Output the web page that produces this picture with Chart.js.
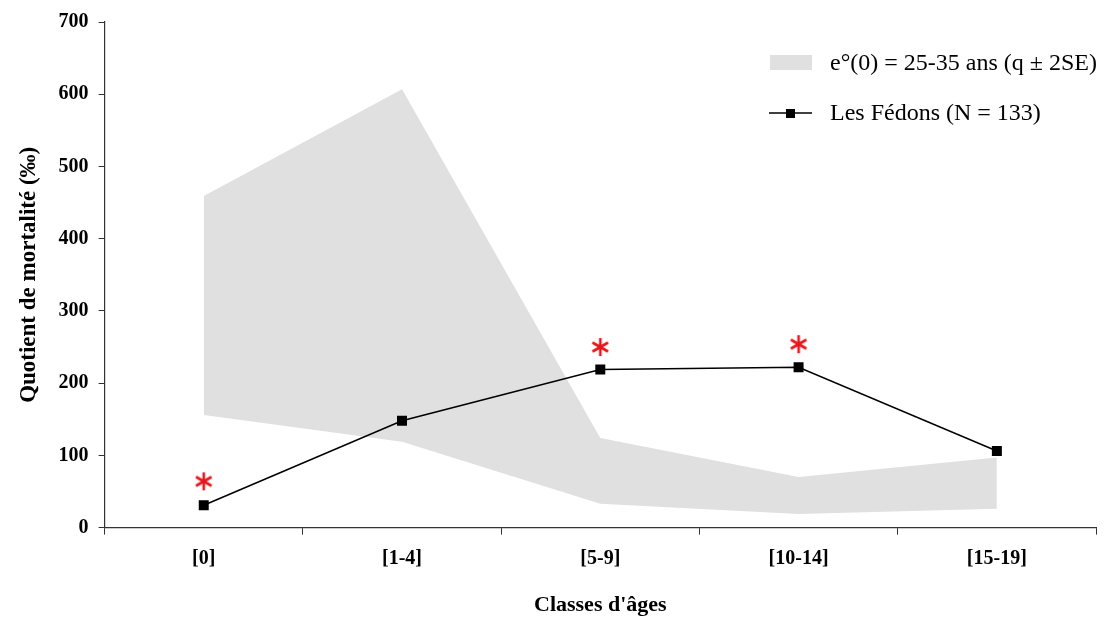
<!DOCTYPE html>
<html>
<head>
<meta charset="utf-8">
<script src="https://cdn.jsdelivr.net/npm/chart.js@4/dist/chart.umd.min.js"></script>
<style>
  body { margin: 0; background: #fff; }
  #wrap { width: 1104px; height: 617px; }
</style>
</head>
<body>
<div id="wrap"><canvas id="chart" width="1104" height="617"></canvas></div>
<script>
const ageClasses = ['[0]', '[1-4]', '[5-9]', '[10-14]', '[15-19]'];
const fedons = [31, 148, 219, 222, 106];
const bandUpper = [459, 607, 124, 70, 97];
const bandLower = [156, 119, 33, 19, 26];
const significant = [64, null, 250, 254, null];

const bandLabel = 'e°(0) = 25-35 ans (q ± 2SE)';
const lineLabel = 'Les Fédons (N = 133)';
const serif = '"Liberation Serif", "Times New Roman", serif';

// red asterisk used as point style
const star = document.createElement('canvas');
star.width = 22; star.height = 22;
(() => {
  const c = star.getContext('2d');
  c.strokeStyle = '#e8161c';
  c.lineWidth = 2.6;
  const r = 9;
  for (const a of [90, 30, -30]) {
    const t = a * Math.PI / 180;
    c.beginPath();
    c.moveTo(11 - r * Math.cos(t), 11 - r * Math.sin(t));
    c.lineTo(11 + r * Math.cos(t), 11 + r * Math.sin(t));
    c.stroke();
  }
})();

const legendPlugin = {
  id: 'cornerLegend',
  afterDraw(chart) {
    const ctx = chart.ctx;
    ctx.save();
    ctx.font = '24px ' + serif;
    ctx.textBaseline = 'middle';
    ctx.fillStyle = '#e0e0e0';
    ctx.fillRect(770, 55, 42, 15);
    ctx.fillStyle = '#000';
    ctx.fillText(bandLabel, 830, 64);
    ctx.strokeStyle = '#000';
    ctx.lineWidth = 1.5;
    ctx.beginPath();
    ctx.moveTo(769, 113);
    ctx.lineTo(812, 113);
    ctx.stroke();
    ctx.fillRect(786, 109, 9, 9);
    ctx.fillText(lineLabel, 830, 114);
    ctx.restore();
  }
};

new Chart(document.getElementById('chart'), {
  type: 'line',
  data: {
    labels: ageClasses,
    datasets: [
      {
        label: 'upper',
        data: bandUpper,
        borderWidth: 0,
        pointRadius: 0,
        backgroundColor: '#e0e0e0',
        fill: '+1',
        order: 3
      },
      {
        label: bandLabel,
        data: bandLower,
        borderWidth: 0,
        pointRadius: 0,
        fill: false,
        order: 3
      },
      {
        label: lineLabel,
        data: fedons,
        borderColor: '#000',
        backgroundColor: '#000',
        borderWidth: 1.5,
        pointStyle: 'rect',
        pointRadius: 6,
        fill: false,
        order: 1
      },
      {
        label: 'sig',
        data: significant,
        showLine: false,
        pointStyle: star,
        order: 0
      }
    ]
  },
  options: {
    responsive: false,
    animation: false,
    layout: { padding: { top: 6, right: 8, left: 11, bottom: -6 } },
    plugins: { legend: { display: false }, tooltip: { enabled: false } },
    scales: {
      x: {
        offset: true,
        grid: { offset: true, drawOnChartArea: false, tickLength: 7, color: '#333', tickWidth: 1 },
        border: { color: '#333', width: 1.2 },
        ticks: { color: '#000', padding: 12, font: { family: serif, size: 20, weight: 'bold' } },
        title: { display: true, text: "Classes d'âges", color: '#000', padding: { top: 10 }, font: { family: serif, size: 22, weight: 'bold' } }
      },
      y: {
        min: 0,
        max: 700,
        ticks: { stepSize: 100, color: '#000', padding: 10, font: { family: serif, size: 20, weight: 'bold' } },
        grid: { drawOnChartArea: false, tickLength: 6, color: '#333' },
        border: { color: '#333', width: 1.2 },
        title: { display: true, text: 'Quotient de mortalité (‰)', color: '#000', padding: { bottom: 6 }, font: { family: serif, size: 23, weight: 'bold' } }
      }
    }
  },
  plugins: [legendPlugin]
});
</script>
</body>
</html>
